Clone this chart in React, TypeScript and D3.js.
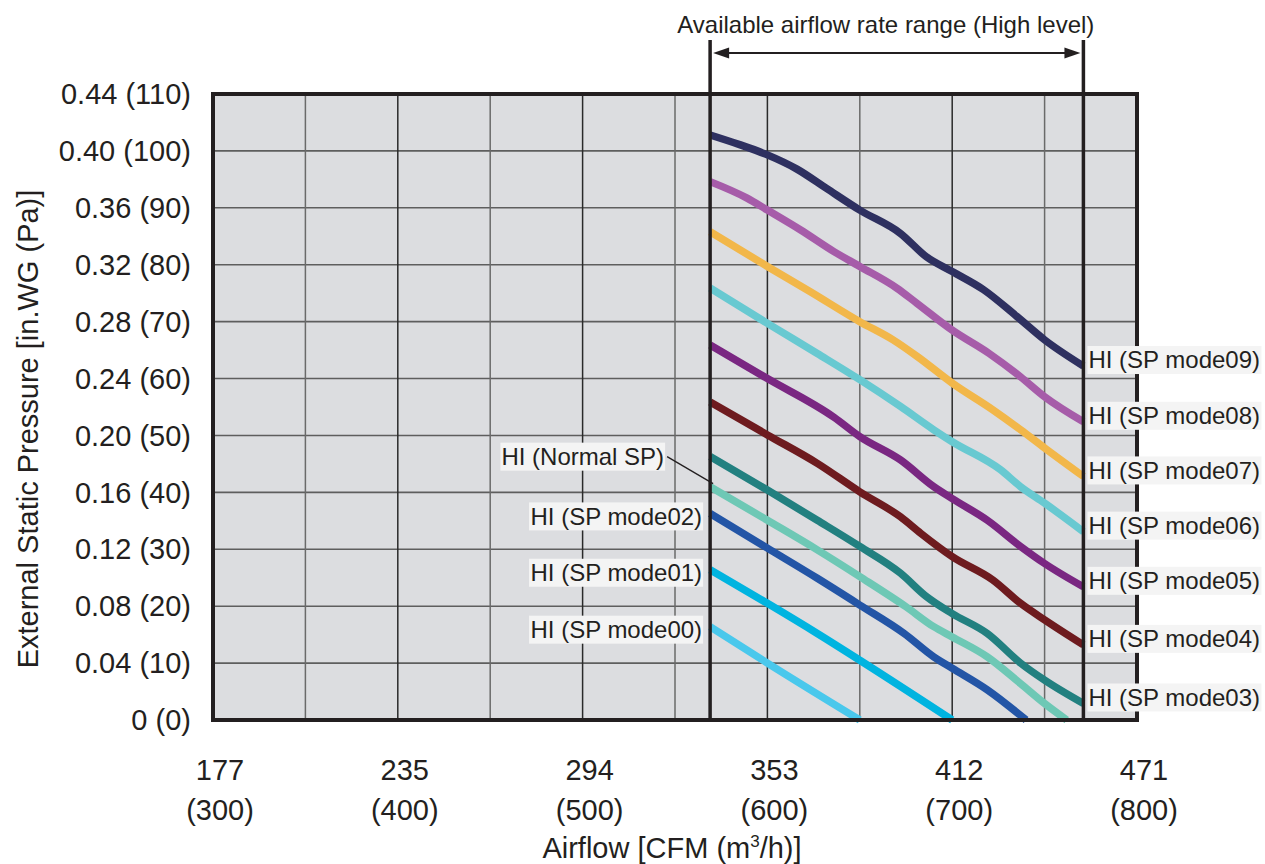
import React from 'react';
import * as d3 from 'd3';

const W = 1265;
const H = 864;

// Axis ticks
const airflowTicks = [300, 400, 500, 600, 700, 800];
const cfmLabels = ['177', '235', '294', '353', '412', '471'];
const paTicks = [0, 10, 20, 30, 40, 50, 60, 70, 80, 90, 100, 110];
const inwgLabels = ['0', '0.04', '0.08', '0.12', '0.16', '0.20', '0.24', '0.28', '0.32', '0.36', '0.40', '0.44'];
const gridAirflow = [350, 400, 450, 500, 550, 600, 650, 700, 750];
const availableRange = [569, 771];

// Series: [airflow m3/h, static pressure Pa]
const mode09: [number, number][] = [[569, 102.8], [585, 101.1], [600, 99.3], [616, 96.8], [632, 93.4], [650, 89.6], [672, 85.5], [686, 81.4], [700, 78.8], [717, 75.6], [735, 70.9], [750, 66.8], [771, 62.2]];
const mode08: [number, number][] = [[569, 94.6], [589, 91.7], [600, 89.6], [618, 86.1], [636, 82.3], [650, 79.7], [670, 75.9], [681, 73.2], [700, 68.5], [720, 64.4], [737, 60.3], [750, 56.8], [771, 52.4]];
const mode07: [number, number][] = [[569, 85.8], [600, 79.7], [623, 75.3], [650, 70.0], [668, 66.8], [681, 63.9], [700, 59.2], [722, 54.5], [737, 51.0], [750, 47.8], [771, 42.8]];
const mode06: [number, number][] = [[569, 75.9], [600, 69.7], [627, 64.4], [650, 59.8], [672, 55.1], [690, 51.0], [700, 48.9], [726, 44.0], [737, 41.0], [750, 38.1], [771, 33.1]];
const mode05: [number, number][] = [[569, 65.9], [600, 60.0], [636, 53.2], [650, 49.8], [672, 45.7], [690, 41.0], [700, 38.9], [719, 35.1], [737, 30.5], [750, 27.5], [771, 23.4]];
const mode04: [number, number][] = [[569, 55.9], [600, 50.1], [627, 45.1], [650, 40.1], [672, 35.7], [683, 32.8], [700, 28.7], [722, 24.6], [737, 20.5], [750, 17.6], [771, 13.2]];
const mode03: [number, number][] = [[569, 46.3], [600, 40.4], [627, 35.1], [650, 30.5], [672, 25.8], [686, 21.7], [700, 18.7], [719, 15.2], [737, 10.0], [750, 7.0], [771, 2.9]];
const normalSP: [number, number][] = [[569, 41.0], [600, 35.1], [627, 29.9], [650, 25.2], [675, 19.9], [690, 16.4], [700, 14.6], [719, 11.1], [737, 6.4], [750, 2.9], [762, 0]];
const mode02: [number, number][] = [[569, 36.3], [600, 30.2], [627, 24.9], [650, 20.2], [674, 15.2], [690, 11.1], [700, 9.1], [719, 5.3], [740, 0]];
const mode01: [number, number][] = [[569, 26.4], [600, 20.5], [627, 15.2], [650, 10.5], [700, 0]];
const mode00: [number, number][] = [[569, 16.4], [600, 10.0], [650, 0]];

const seriesNames = ['HI (SP mode09)', 'HI (SP mode08)', 'HI (SP mode07)', 'HI (SP mode06)', 'HI (SP mode05)', 'HI (SP mode04)', 'HI (SP mode03)', 'HI (Normal SP)', 'HI (SP mode02)', 'HI (SP mode01)', 'HI (SP mode00)'];
const seriesData = [mode09, mode08, mode07, mode06, mode05, mode04, mode03, normalSP, mode02, mode01, mode00];
const seriesColors = ['#2e3060', '#a65ca9', '#f2b74a', '#68c9d1', '#7a2782', '#6e1b1f', '#228080', '#6ec8b5', '#2355a6', '#00b4e0', '#4ac8ec'];
const labelSide = ['right', 'right', 'right', 'right', 'right', 'right', 'right', 'left', 'left', 'left', 'left'];

const FONT = '"Liberation Sans", Arial, Helvetica, sans-serif';

function measure(text: string, size: number): number {
  const c = document.createElement('canvas').getContext('2d');
  if (!c) return text.length * size * 0.55;
  c.font = `${size}px ${FONT}`;
  return c.measureText(text).width;
}

export default function App() {
  const left = 213, right = 1137, top = 94, bottom = 720;
  const x = d3.scaleLinear().domain([300, 800]).range([left, right]);
  const y = d3.scaleLinear().domain([0, 110]).range([bottom, top]);
  const line = d3.line<[number, number]>().x(d => x(d[0])).y(d => y(d[1])).curve(d3.curveMonotoneX);

  const xa0 = x(availableRange[0]);
  const xa1 = x(availableRange[1]);
  const arrowY = 53;
  const labelSize = 24;
  const axisSize = 29;

  return (
    <svg width={W} height={H} style={{ position: 'absolute', left: 0, top: 0, background: '#fff' }} fontFamily={FONT}>
      <rect x={left} y={top} width={right - left} height={bottom - top} fill="#dcdde0" />
      {paTicks.slice(1, -1).map(v => (
        <line key={'h' + v} x1={left} x2={right} y1={y(v)} y2={y(v)} stroke="#5e5e5e" strokeWidth={1.6} />
      ))}
      {gridAirflow.map((v, i) => (
        <line key={'v' + v} x1={x(v)} x2={x(v)} y1={top} y2={bottom} stroke={i % 2 === 1 ? '#2a2a2a' : '#6a6a6a'} strokeWidth={1.5} />
      ))}

      {seriesData.map((d, i) => (
        <path key={'s' + i} d={line(d) || ''} fill="none" stroke={seriesColors[i]} strokeWidth={7.5} />
      ))}

      <rect x={left} y={top} width={right - left} height={bottom - top} fill="none" stroke="#231f20" strokeWidth={4} />

      {/* available range */}
      <line x1={xa0} x2={xa0} y1={40} y2={bottom} stroke="#231f20" strokeWidth={3.5} />
      <line x1={xa1} x2={xa1} y1={40} y2={bottom} stroke="#231f20" strokeWidth={3.5} />
      <line x1={xa0 + 10} x2={xa1 - 10} y1={arrowY} y2={arrowY} stroke="#231f20" strokeWidth={2} />
      <path d={`M${xa0 + 3},${arrowY} L${xa0 + 19},${arrowY - 5.5} L${xa0 + 19},${arrowY + 5.5} Z`} fill="#231f20" />
      <path d={`M${xa1 - 3},${arrowY} L${xa1 - 19},${arrowY - 5.5} L${xa1 - 19},${arrowY + 5.5} Z`} fill="#231f20" />
      <text x={(xa0 + xa1) / 2 - 11} y={33} textAnchor="middle" fontSize={24} fill="#231f20">Available airflow rate range (High level)</text>

      {/* y ticks */}
      {paTicks.map((v, i) => (
        <text key={'yt' + v} x={191} y={y(v)} dy="0.35em" textAnchor="end" fontSize={axisSize} fill="#231f20">{`${inwgLabels[i]} (${v})`}</text>
      ))}
      <text transform={`translate(38,${(top + bottom) / 2 + 22}) rotate(-90)`} textAnchor="middle" fontSize={axisSize} fill="#231f20">External Static Pressure [in.WG (Pa)]</text>

      {/* x ticks */}
      {airflowTicks.map((v, i) => (
        <g key={'xt' + v}>
          <text x={x(v) + 7} y={770} dy="0.35em" textAnchor="middle" fontSize={axisSize} fill="#231f20">{cfmLabels[i]}</text>
          <text x={x(v) + 7} y={810} dy="0.35em" textAnchor="middle" fontSize={axisSize} fill="#231f20">{`(${v})`}</text>
        </g>
      ))}
      <text x={672} y={858} textAnchor="middle" fontSize={axisSize} fill="#231f20">
        Airflow [CFM (m<tspan dy={-11} fontSize={17}>3</tspan><tspan dy={11}>/h)]</tspan>
      </text>

      {/* series labels */}
      {seriesData.map((d, i) => {
        const name = seriesNames[i];
        const w = measure(name, labelSize);
        if (labelSide[i] === 'right') {
          const last = d[d.length - 1];
          const cy = y(last[1]) - 6;
          const tx = x(last[0]) + 5;
          return (
            <g key={'l' + i}>
              <rect x={tx - 1} y={cy - 14} width={w + 2} height={28} fill="#f4f4f4" />
              <text x={tx} y={cy} dy="0.35em" fontSize={labelSize} fill="#231f20">{name}</text>
            </g>
          );
        }
        const first = d[0];
        const isNormal = name.indexOf('Normal') >= 0;
        const cy = isNormal ? y(first[1]) - 30 : y(first[1]) + 3;
        const tx = isNormal ? x(first[0]) - 46 : x(first[0]) - 8;
        return (
          <g key={'l' + i}>
            <rect x={tx - w - 1} y={cy - 14} width={w + 2} height={28} fill="#f4f4f4" />
            <text x={tx} y={cy} dy="0.35em" textAnchor="end" fontSize={labelSize} fill="#231f20">{name}</text>
            {isNormal && (
              <line x1={tx + 3} y1={cy} x2={x(first[0]) + 3} y2={y(first[1]) - 3} stroke="#231f20" strokeWidth={1.3} />
            )}
          </g>
        );
      })}
    </svg>
  );
}
